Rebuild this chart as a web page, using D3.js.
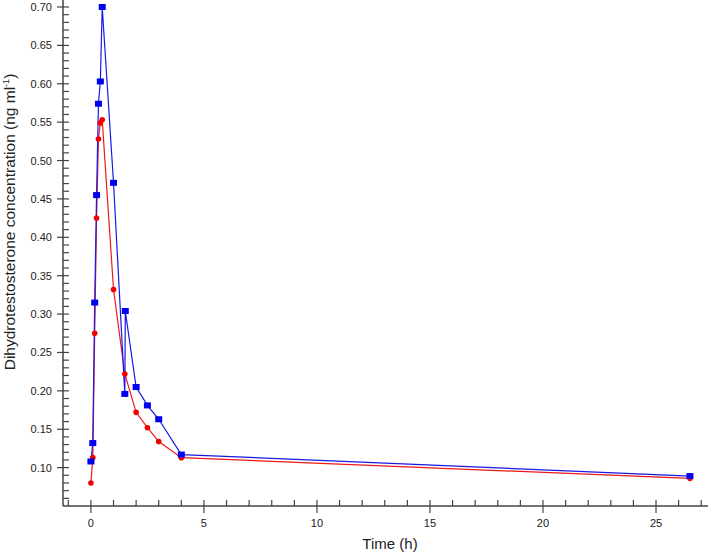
<!DOCTYPE html>
<html>
<head>
<meta charset="utf-8">
<title>Dihydrotestosterone concentration</title>
<script src="https://d3js.org/d3.v7.min.js"></script>
<style>
  body { margin: 0; background: #fff; }
  text { font-family: "Liberation Sans", Arial, sans-serif; fill: #222; }
</style>
</head>
<body>
<svg id="chart" width="709" height="557"></svg>
<script>
// time points (h) and concentrations (ng/ml)
var blueTime = [0, 0.083, 0.167, 0.25, 0.333, 0.417, 0.5, 1, 1.5, 1.52, 2, 2.5, 3, 4, 26.5];
var blueConc = [0.108, 0.132, 0.315, 0.455, 0.574, 0.603, 0.700, 0.471, 0.196, 0.304, 0.205, 0.181, 0.163, 0.117, 0.089];

var redTime = [0, 0.083, 0.167, 0.25, 0.333, 0.417, 0.5, 1, 1.5, 2, 2.5, 3, 4, 26.5];
var redConc = [0.080, 0.113, 0.275, 0.425, 0.528, 0.549, 0.553, 0.332, 0.222, 0.172, 0.152, 0.134, 0.113, 0.086];

var xMajor = [0, 5, 10, 15, 20, 25];
var yMajor = [0.10, 0.15, 0.20, 0.25, 0.30, 0.35, 0.40, 0.45, 0.50, 0.55, 0.60, 0.65, 0.70];

var svg = d3.select("#chart");
var axisColor = "#444";

// scales
var x = d3.scaleLinear().domain([-1.235, 27.3]).range([63, 708]);
var y = d3.scaleLinear().domain([0.05, 0.70]).range([506, 7]);

var g = svg.append("g");

// y axis line
g.append("line")
    .attr("x1", 63).attr("x2", 63)
    .attr("y1", 0).attr("y2", y(0.05))
    .attr("stroke", axisColor).attr("stroke-width", 1.5);

// y minor ticks (inside)
var yMinor = d3.range(6, 71).map(function(d) { return d / 100; });
g.selectAll(".yminor").data(yMinor).enter().append("line")
    .attr("x1", 63).attr("x2", 69)
    .attr("y1", function(d) { return y(d); })
    .attr("y2", function(d) { return y(d); })
    .attr("stroke", axisColor).attr("stroke-width", 1.2);

// y major ticks (outside)
g.selectAll(".ymajor").data(yMajor).enter().append("line")
    .attr("x1", 57).attr("x2", 63)
    .attr("y1", function(d) { return y(d); })
    .attr("y2", function(d) { return y(d); })
    .attr("stroke", axisColor).attr("stroke-width", 1.2);

g.selectAll(".ylabel").data(yMajor).enter().append("text")
    .attr("x", 52)
    .attr("y", function(d) { return y(d) + 4; })
    .attr("text-anchor", "end")
    .style("font-size", "11px")
    .text(function(d) { return d3.format(".2f")(d); });

// x axis line
g.append("line")
    .attr("x1", 63).attr("x2", 708)
    .attr("y1", y(0.05)).attr("y2", y(0.05))
    .attr("stroke", axisColor).attr("stroke-width", 1.5);

var xMinor = d3.range(-1, 28);
g.selectAll(".xminor").data(xMinor).enter().append("line")
    .attr("x1", function(d) { return x(d); })
    .attr("x2", function(d) { return x(d); })
    .attr("y1", y(0.05) - 6).attr("y2", y(0.05))
    .attr("stroke", axisColor).attr("stroke-width", 1.2);

g.selectAll(".xmajor").data(xMajor).enter().append("line")
    .attr("x1", function(d) { return x(d); })
    .attr("x2", function(d) { return x(d); })
    .attr("y1", y(0.05)).attr("y2", y(0.05) + 7)
    .attr("stroke", axisColor).attr("stroke-width", 1.2);

g.selectAll(".xlabel").data(xMajor).enter().append("text")
    .attr("x", function(d) { return x(d); })
    .attr("y", 527)
    .attr("text-anchor", "middle")
    .style("font-size", "11px")
    .text(function(d) { return d; });

// axis titles
svg.append("text")
    .attr("x", 390).attr("y", 549)
    .attr("text-anchor", "middle")
    .style("font-size", "15px")
    .text("Time (h)");

var yt = svg.append("text")
    .attr("transform", "translate(15,222) rotate(-90)")
    .attr("text-anchor", "middle")
    .style("font-size", "15.5px");
yt.append("tspan").text("Dihydrotestosterone concentration (ng ml");
yt.append("tspan").attr("dy", -6).style("font-size", "9px").text("-1");
yt.append("tspan").attr("dy", 6).text(")");

// series
var line = d3.line()
    .x(function(d) { return x(d[0]); })
    .y(function(d) { return y(d[1]); });

var red = d3.zip(redTime, redConc);
var blue = d3.zip(blueTime, blueConc);

svg.append("path").datum(red)
    .attr("d", line)
    .attr("fill", "none").attr("stroke", "#f01818").attr("stroke-width", 1.2);

svg.append("path").datum(blue)
    .attr("d", line)
    .attr("fill", "none").attr("stroke", "#1818e8").attr("stroke-width", 1.2);

svg.selectAll(".rdot").data(red).enter().append("circle")
    .attr("cx", function(d) { return x(d[0]); })
    .attr("cy", function(d) { return y(d[1]); })
    .attr("r", 2.8)
    .attr("fill", "#f00000");

svg.selectAll(".bdot").data(blue).enter().append("rect")
    .attr("x", function(d) { return x(d[0]) - 3.5; })
    .attr("y", function(d) { return y(d[1]) - 3; })
    .attr("width", 7).attr("height", 6)
    .attr("fill", "#0000f0");
</script>
</body>
</html>
